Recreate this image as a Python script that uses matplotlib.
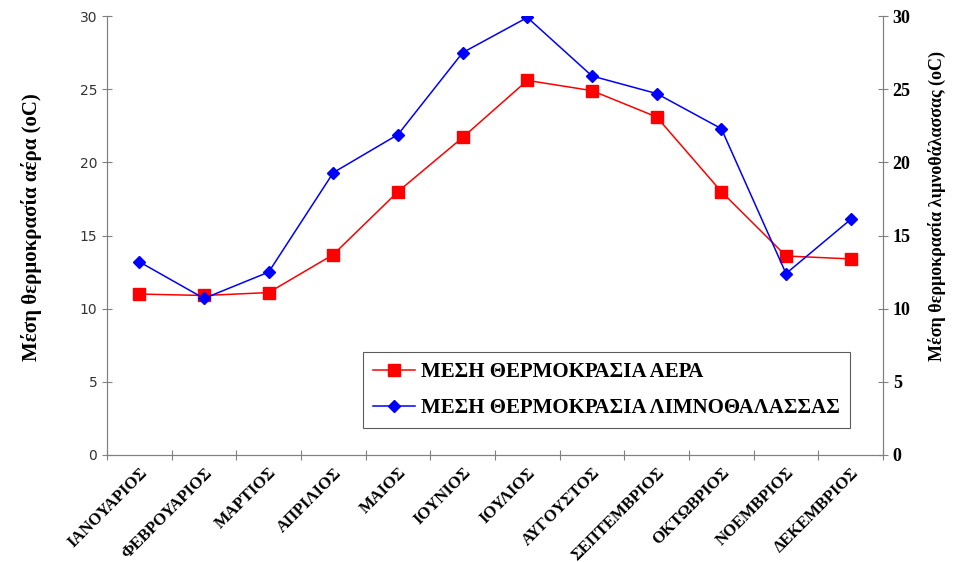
import matplotlib.pyplot as plt
import numpy as np

months = ['ΙΑΝΟΥΑΡΙΟΣ', 'ΦΕΒΡΟΥΑΡΙΟΣ', 'ΜΑΡΤΙΟΣ', 'ΑΠΡΙΛΙΟΣ', 'ΜΑΙΟΣ', 'ΙΟΥΝΙΟΣ',
          'ΙΟΥΛΙΟΣ', 'ΑΥΓΟΥΣΤΟΣ', 'ΣΕΠΤΕΜΒΡΙΟΣ', 'ΟΚΤΩΒΡΙΟΣ', 'ΝΟΕΜΒΡΙΟΣ', 'ΔΕΚΕΜΒΡΙΟΣ']
air_temp = [11.0, 10.9, 11.1, 13.7, 18.0, 21.7, 25.6, 24.9, 23.1, 18.0, 13.6, 13.4]
lagoon_temp = [13.2, 10.7, 12.5, 19.3, 21.9, 27.5, 29.9, 25.9, 24.7, 22.3, 12.4, 16.1]

serif = ['Liberation Serif', 'DejaVu Serif']
grey = '#808080'

fig = plt.figure(figsize=(9.64, 5.62), dpi=100)
ax = fig.add_axes([0.111, 0.1904, 0.805, 0.7811])
ax2 = ax.twinx()

x = np.arange(len(months))
l1, = ax.plot(x, air_temp, color='red', lw=1.1, marker='s', markersize=8,
              label='ΜΕΣΗ ΘΕΡΜΟΚΡΑΣΙΑ ΑΕΡΑ')
l2, = ax2.plot(x, lagoon_temp, color='blue', lw=1.1, marker='D', markersize=6.5,
               label='ΜΕΣΗ ΘΕΡΜΟΚΡΑΣΙΑ ΛΙΜΝΟΘΑΛΑΣΣΑΣ')

for a in (ax, ax2):
    a.set_ylim(0, 30)
    a.set_yticks(range(0, 31, 5))
    a.set_xlim(-0.5, len(months) - 0.5)
    a.spines['top'].set_visible(False)
    for s in a.spines.values():
        s.set_color(grey)

ax.set_xticks(np.arange(-0.5, len(months), 1))
ax.set_xticklabels([])
ax.set_xticks(x, minor=True)
ax.set_xticklabels(months, minor=True, rotation=45, ha='right', va='top',
                   rotation_mode='anchor', family=serif, fontweight='bold', fontsize=12)
ax.tick_params(axis='x', which='major', direction='inout', length=7, color=grey)
ax.tick_params(axis='x', which='minor', length=0, pad=7)

ax.tick_params(axis='y', direction='inout', length=7, color=grey, labelsize=10,
               labelcolor='#333333')
ax2.tick_params(axis='y', direction='inout', length=7, color=grey)
for t in ax2.get_yticklabels():
    t.set_family(serif)
    t.set_fontweight('bold')
    t.set_fontsize(13)

ax.set_ylabel('Μέση θερμοκρασία αέρα (oC)', family=serif, fontweight='bold',
              fontsize=15)
ax.yaxis.set_label_coords(-0.084, 0.52)
ax2.set_ylabel('Μέση θερμοκρασία λιμνοθάλασσας (oC)', family=serif, fontweight='bold',
               fontsize=13)
ax2.yaxis.set_label_coords(1.058, 0.567)

leg = ax2.legend(handles=[l1, l2], loc='lower left', bbox_to_anchor=(0.316, 0.037),
                 prop={'family': serif, 'weight': 'bold', 'size': 15},
                 frameon=True, fancybox=False, edgecolor='#333333',
                 handlelength=2.0, handletextpad=0.3, borderpad=0.5, labelspacing=0.75)
leg.get_frame().set_linewidth(0.8)

fig.savefig('out.png', dpi=100)
